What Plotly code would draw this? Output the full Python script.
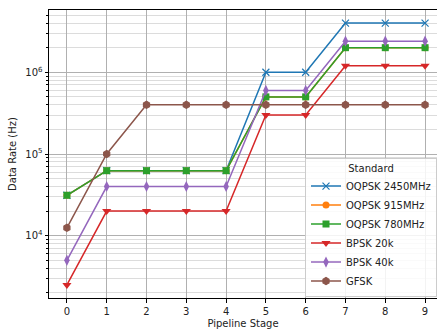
import plotly.graph_objects as go

stages = [0, 1, 2, 3, 4, 5, 6, 7, 8, 9]
oqpsk_2450 = [31250, 62500, 62500, 62500, 62500, 1000000, 1000000, 4000000, 4000000, 4000000]
oqpsk_915 = [31250, 62500, 62500, 62500, 62500, 500000, 500000, 2000000, 2000000, 2000000]
oqpsk_780 = [31250, 62500, 62500, 62500, 62500, 500000, 500000, 2000000, 2000000, 2000000]
bpsk_20k = [2500, 20000, 20000, 20000, 20000, 300000, 300000, 1200000, 1200000, 1200000]
bpsk_40k = [5000, 40000, 40000, 40000, 40000, 600000, 600000, 2400000, 2400000, 2400000]
gfsk = [12500, 100000, 400000, 400000, 400000, 400000, 400000, 400000, 400000, 400000]

series = [
    ("OQPSK 2450MHz", oqpsk_2450, "#1f77b4", "x-thin-open", 7),
    ("OQPSK 915MHz", oqpsk_915, "#ff7f0e", "circle", 7),
    ("OQPSK 780MHz", oqpsk_780, "#2ca02c", "square", 7),
    ("BPSK 20k", bpsk_20k, "#d62728", "triangle-down", 8),
    ("BPSK 40k", bpsk_40k, "#9467bd", "diamond-tall", 8),
    ("GFSK", gfsk, "#8c564b", "hexagon", 7),
]

fig = go.Figure()
for name, vals, color, sym, sz in series:
    fig.add_trace(go.Scatter(
        x=stages, y=vals, name=name, mode="lines+markers",
        line=dict(color=color, width=1.5),
        marker=dict(symbol=sym, size=sz, color=color,
                    line=dict(color=color, width=1.2 if "x" in sym else 0)),
    ))

font = "DejaVu Sans, sans-serif"
fig.update_layout(
    width=437, height=329,
    margin=dict(l=49, r=0, t=10, b=31),
    paper_bgcolor="white", plot_bgcolor="white",
    font=dict(family=font, size=10, color="#222"),
    showlegend=True,
    legend=dict(
        x=1.0, xanchor="right", y=0.005, yanchor="bottom",
        bgcolor="rgba(255,255,255,0.85)", bordercolor="#cccccc", borderwidth=1,
        font=dict(size=10, family=font, color="#222"),
        title=dict(text="Standard", side="top center", font=dict(size=10, family=font)),
        tracegroupgap=0, itemwidth=30,
    ),
    xaxis=dict(
        range=[-0.45, 9.3], tickmode="array", tickvals=stages,
        ticktext=[str(s) for s in stages],
        showgrid=True, gridcolor="#b0b0b0", gridwidth=1,
        zeroline=False, showline=True, linecolor="black", linewidth=1, mirror=True,
        ticks="outside", ticklen=3.5, tickcolor="black",
        title=dict(text="Pipeline Stage", standoff=4, font=dict(size=10)),
    ),
    yaxis=dict(
        type="log", range=[3.238, 6.762],
        tickmode="array", tickvals=[1e4, 1e5, 1e6],
        ticktext=["10<sup>4</sup>", "10<sup>5</sup>", "10<sup>6</sup>"],
        showgrid=True, gridcolor="#b0b0b0", gridwidth=1,
        zeroline=False, showline=True, linecolor="black", linewidth=1, mirror=True,
        ticks="outside", ticklen=3.5, tickcolor="black",
        minor=dict(showgrid=True, gridcolor="#dcdcdc", gridwidth=1,
                   ticks="outside", ticklen=2, tickcolor="black", dtick="D1"),
        title=dict(text="Data Rate (Hz)", standoff=6, font=dict(size=10)),
    ),
)

fig.write_html("out.html")
